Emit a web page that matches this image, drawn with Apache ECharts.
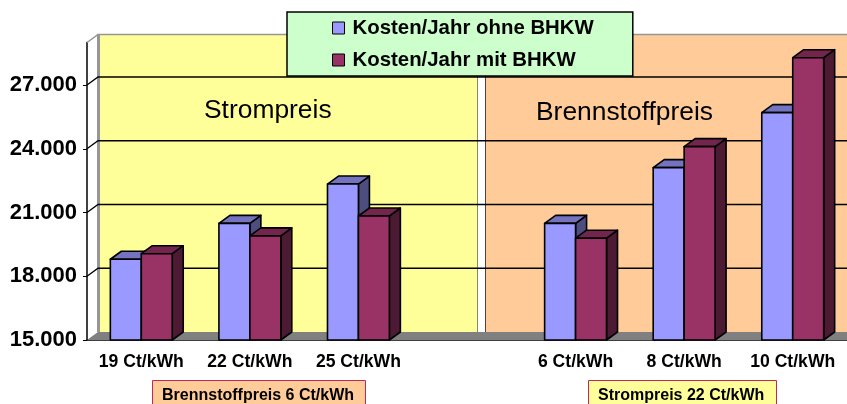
<!DOCTYPE html>
<html>
<head>
<meta charset="utf-8">
<style>html,body{margin:0;padding:0;background:#fff}#chart{width:847px;height:404px}</style>
<script src="https://cdn.jsdelivr.net/npm/echarts@6/dist/echarts.min.js"></script>
</head>
<body>
<div id="chart"></div>
<script>
var categories = ['19 Ct/kWh', '22 Ct/kWh', '25 Ct/kWh', '', '6 Ct/kWh', '8 Ct/kWh', '10 Ct/kWh'];
var ohneBhkw = [18800, 20490, 22340, null, 20490, 23110, 25700];
var mitBhkw = [19060, 19900, 20835, null, 19790, 24100, 28285];
var yTicks = [15000, 18000, 21000, 24000, 27000];

var FONT = '"Liberation Sans", Arial, sans-serif';
var DX = 11, DY = 8;

function poly(points, fill) {
	return {
		type: 'polygon',
		shape: { points: points },
		style: { fill: fill, stroke: '#000', lineWidth: 1.6, lineJoin: 'round' }
	};
}

// one 3d column, side = -1 left of the category centre, 0 right of it
function barRenderer(side, front, top, right) {
	return function(params, api) {
		var v = api.value(1);
		if (v == null || isNaN(v)) return;
		var p = api.coord([api.value(0), v]);
		var base = api.coord([api.value(0), yTicks[0]]);
		var w = api.size([1, 0])[0] * 0.285;
		var x0 = p[0] + side * w, x1 = x0 + w, y0 = p[1], y1 = base[1];
		return {
			type: 'group',
			children: [
				poly([[x1, y0], [x1 + DX, y0 - DY], [x1 + DX, y1 - DY], [x1, y1]], right),
				poly([[x0, y0], [x0 + DX, y0 - DY], [x1 + DX, y0 - DY], [x1, y0]], top),
				poly([[x0, y0], [x1, y0], [x1, y1], [x0, y1]], front)
			]
		};
	};
}

// back wall, floor and left wall
function renderWall(params, api) {
	var c = params.coordSys;
	var l = c.x, r = c.x + c.width + 2, t = c.y, b = c.y + c.height;
	var rect = function(x0, x1, fill) {
		return { type: 'rect', shape: { x: x0, y: t - DY, width: x1 - x0, height: c.height }, style: { fill: fill } };
	};
	return {
		type: 'group',
		children: [
			rect(l + DX + 2, 478, '#FFFF99'),
			rect(486, r, '#FFCC99'),
			rect(477, 478, '#8A8A60'),
			rect(485, 486, '#5A4030'),
			{ type: 'rect', shape: { x: l + DX - 1, y: t - DY, width: 3, height: c.height }, style: { fill: '#969696' } },
			{ type: 'polygon', shape: { points: [[l, b], [l + DX, b - DY], [r, b - DY], [r, b]] }, style: { fill: '#808080' } },
			{ type: 'polyline', shape: { points: [[l, t], [l + DX, t - DY], [r, t - DY]] }, style: { fill: 'none', stroke: '#969696', lineWidth: 1.5 } }
		]
	};
}

function renderGrid(params, api) {
	var c = params.coordSys;
	var y = api.coord([0, api.value(0)])[1];
	return {
		type: 'group',
		children: [
			{ type: 'polyline', shape: { points: [[c.x, y], [c.x + DX, y - DY], [c.x + c.width + 2, y - DY]] }, style: { fill: 'none', stroke: '#000', lineWidth: 1.3 } }
		]
	};
}

var option = {
	animation: false,
	backgroundColor: '#fff',
	grid: { left: 87, top: 42.5, width: 761, height: 297.5 },
	legend: {
		left: 287,
		top: 12,
		orient: 'vertical',
		data: [
			{ name: 'Kosten/Jahr ohne BHKW', icon: 'rect', itemStyle: { color: '#9999FF', borderColor: '#000', borderWidth: 1 } },
			{ name: 'Kosten/Jahr mit BHKW', icon: 'rect', itemStyle: { color: '#993366', borderColor: '#000', borderWidth: 1 } }
		],
		itemWidth: 12,
		itemHeight: 12,
		itemGap: 12,
		padding: [6, 39, 6, 45],
		backgroundColor: '#CCFFCC',
		borderColor: '#000',
		borderWidth: 1.5,
		textStyle: { fontFamily: FONT, fontWeight: 'bold', fontSize: 20.4, color: '#000', padding: [0, 0, 0, 3] }
	},
	xAxis: {
		type: 'category',
		data: categories,
		boundaryGap: true,
		axisLine: { lineStyle: { color: '#000', width: 1.5 } },
		axisTick: { alignWithLabel: false, length: 4, lineStyle: { color: '#000', width: 1 } },
		axisLabel: { interval: 0, margin: 13, fontFamily: FONT, fontWeight: 'bold', fontSize: 17.6, color: '#000' },
		splitLine: { show: false }
	},
	yAxis: {
		type: 'value',
		min: 15000,
		max: 29000,
		interval: 3000,
		axisLine: { show: true, lineStyle: { color: '#000', width: 1.5 } },
		axisTick: { show: true, length: 4, customValues: yTicks, lineStyle: { color: '#000', width: 1 } },
		axisLabel: {
			customValues: yTicks,
			margin: 10,
			padding: [3, 0, 0, 0],
			fontFamily: FONT,
			fontWeight: 'bold',
			fontSize: 22,
			color: '#000',
			formatter: function(v) {
				return String(v).replace(/(\d)(\d{3})$/, '$1.$2');
			}
		},
		splitLine: { show: false }
	},
	graphic: [
		{ type: 'text', z: 10, left: 204, top: 98, style: { text: 'Strompreis', font: '26.4px ' + FONT, fill: '#000' } },
		{ type: 'text', z: 10, left: 536, top: 100, style: { text: 'Brennstoffpreis', font: '26.4px ' + FONT, fill: '#000' } },
		{ type: 'rect', z: 10, left: 152, top: 380, shape: { width: 213, height: 30 }, style: { fill: '#FFCC99', stroke: '#C0285A', lineWidth: 1 } },
		{ type: 'text', z: 11, left: 162, top: 388, style: { text: 'Brennstoffpreis 6 Ct/kWh', font: 'bold 16px ' + FONT, fill: '#000' } },
		{ type: 'rect', z: 10, left: 588, top: 380, shape: { width: 188, height: 30 }, style: { fill: '#FFFF99', stroke: '#C0285A', lineWidth: 1 } },
		{ type: 'text', z: 11, left: 598, top: 388, style: { text: 'Strompreis 22 Ct/kWh', font: 'bold 16px ' + FONT, fill: '#000' } }
	],
	series: [
		{ type: 'custom', silent: true, z: 1, renderItem: renderWall, data: [[0]], encode: { x: -1, y: -1 } },
		{ type: 'custom', silent: true, z: 2, renderItem: renderGrid, data: yTicks.slice(1).map(function(v) { return [v]; }), encode: { x: -1, y: 0 } },
		{
			name: 'Kosten/Jahr ohne BHKW',
			type: 'custom',
			z: 3,
			renderItem: barRenderer(-1, '#9999FF', '#7373BF', '#4D4D80'),
			itemStyle: { color: '#9999FF' },
			encode: { x: 0, y: 1 },
			data: ohneBhkw.map(function(v, i) { return [i, v]; })
		},
		{
			name: 'Kosten/Jahr mit BHKW',
			type: 'custom',
			z: 4,
			renderItem: barRenderer(0, '#993366', '#73264D', '#4D1A33'),
			itemStyle: { color: '#993366' },
			encode: { x: 0, y: 1 },
			data: mitBhkw.map(function(v, i) { return [i, v]; })
		}
	]
};

var chart = echarts.init(document.getElementById('chart'));
chart.setOption(option);
</script>
</body>
</html>
